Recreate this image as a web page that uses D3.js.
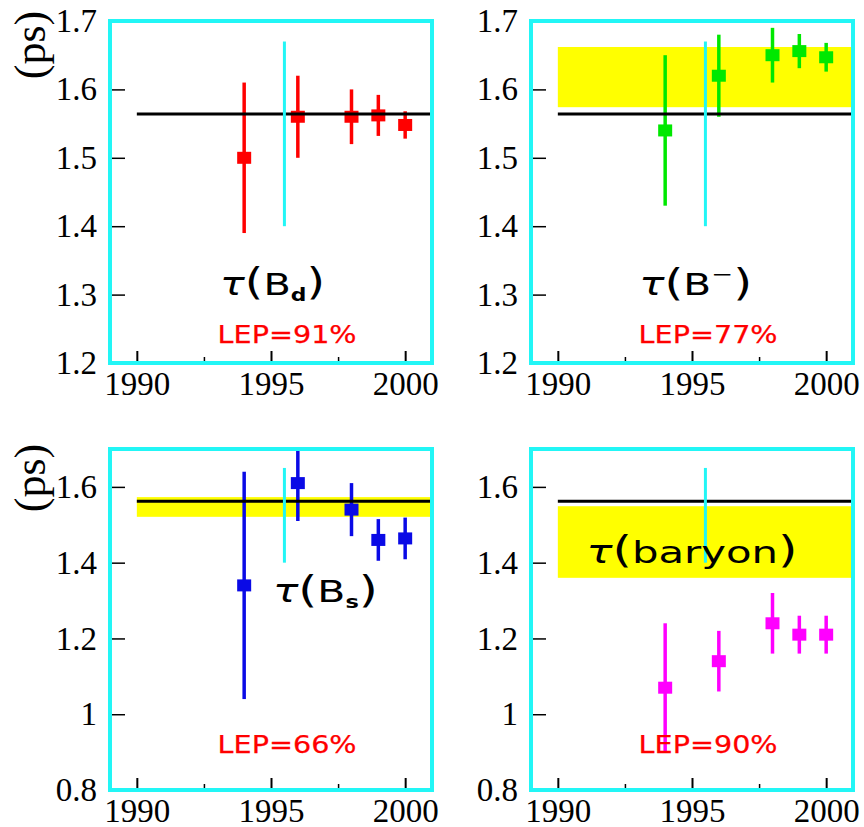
<!DOCTYPE html>
<html>
<head>
<meta charset="utf-8">
<script src="https://cdn.jsdelivr.net/npm/d3@7"></script>
<style>
  body { margin: 0; background: #ffffff; }
</style>
</head>
<body>
<svg id="chart" width="864" height="827"></svg>
<script>
// ---- measurement years (shared by every panel) ----
const years = [1994, 1996, 1998, 1999, 2000];

// ---- lifetimes (ps) and symmetric errors, per hadron species ----
const bdTau = [1.50, 1.56, 1.56, 1.562, 1.548];
const bdErr = [0.11, 0.06, 0.04, 0.03, 0.02];
const buTau = [1.54, 1.62, 1.65, 1.656, 1.647];
const buErr = [0.11, 0.06, 0.04, 0.025, 0.021];
const bsTau = [1.34, 1.61, 1.54, 1.46, 1.464];
const bsErr = [0.30, 0.10, 0.07, 0.055, 0.055];
const lbTau = [1.07, 1.14, 1.24, 1.21, 1.21];
const lbErr = [0.17, 0.08, 0.08, 0.05, 0.05];

// ---- reference B_d lifetime line and current-average bands ----
const refLifetime = [1.564, 1.564, 1.562, 1.562];
const avgBands = [null, [1.574, 1.662], [1.521, 1.573], [1.36, 1.549]];

// ---- vertical marker at mid-1995 (low/high ends per panel) ----
const markerYear = 1995.5;
const markerSpan = [[1.40, 1.67], [1.40, 1.67], [1.40, 1.65], [1.40, 1.65]];

// ---- LEP share labels ----
const lepLabels = ["LEP=91%", "LEP=77%", "LEP=66%", "LEP=90%"];

// ---- axis ticks ----
const yTicksTop = [1.2, 1.3, 1.4, 1.5, 1.6, 1.7];
const yTicksBottom = [0.8, 1, 1.2, 1.4, 1.6];
const xTicksMajor = [1990, 1995, 2000];
const xTicksMinor = [1992.5, 1997.5];

// ---- panel layout ----
const bottomFmt = d => d === 1 ? "1" : d3.format(".1f")(d);
const panels = [
  { x: 110, y: 21,  w: 322, h: 342, dom: [1.2, 1.7], yt: yTicksTop,    fmt: d3.format(".1f"), tau: bdTau, err: bdErr, color: "#ff0000", unit: true },
  { x: 531, y: 21,  w: 322, h: 342, dom: [1.2, 1.7], yt: yTicksTop,    fmt: d3.format(".1f"), tau: buTau, err: buErr, color: "#00e800", unit: false },
  { x: 110, y: 449, w: 322, h: 341, dom: [0.8, 1.7], yt: yTicksBottom, fmt: bottomFmt, tau: bsTau, err: bsErr, color: "#0a0ae6", unit: true },
  { x: 531, y: 449, w: 322, h: 341, dom: [0.8, 1.7], yt: yTicksBottom, fmt: bottomFmt, tau: lbTau, err: lbErr, color: "#ff00ff", unit: false }
];

// title text pieces, anchor (year, lifetime) and rendered width
const titles = [
  { at: [1993.1, 1.299], width: 105, parts: [["τ", 32, "italic"], ["(", 37], ["B", 31], ["d", 17, "bold", 6], [")", 37, null, -6]] },
  { at: [1993.03, 1.299], width: 113, parts: [["τ", 32, "italic"], ["(", 37], ["B", 31], ["−", 20, null, -14], [")", 37, null, 14]] },
  { at: [1995.07, 1.295], width: 105, parts: [["τ", 32, "italic"], ["(", 37], ["B", 31], ["s", 17, "bold", 6], [")", 37, null, -6]] },
  { at: [1991.07, 1.40], width: 211, parts: [["τ", 32, "italic"], ["(", 37], ["baryon", 31], [")", 37]] }
];
const lepAt = [[1995.6, 1.229], [1995.6, 1.229], [1995.6, 0.897], [1995.6, 0.897]];

const svg = d3.select("#chart");
const CYAN = "#22f6f6";

panels.forEach((p, i) => {
  const g = svg.append("g").attr("transform", `translate(${p.x},${p.y})`);
  const x = d3.scaleLinear().domain([1989, 2001]).range([0, p.w]);
  const y = d3.scaleLinear().domain(p.dom).range([p.h, 0]);

  const clipId = "clip" + i;
  g.append("clipPath").attr("id", clipId)
    .append("rect").attr("width", p.w).attr("height", p.h);
  const plot = g.append("g").attr("clip-path", `url(#${clipId})`);

  // current-average band
  if (avgBands[i]) {
    plot.append("rect")
      .attr("x", x(1990)).attr("width", x(2001) - x(1990))
      .attr("y", y(avgBands[i][1])).attr("height", y(avgBands[i][0]) - y(avgBands[i][1]))
      .attr("fill", "#ffff00");
  }

  // measurements: error bars and square markers
  const pts = years.map((yr, k) => ({ yr, v: p.tau[k], e: p.err[k] }));
  plot.selectAll("line.err").data(pts).join("line")
    .attr("class", "err")
    .attr("x1", d => x(d.yr)).attr("x2", d => x(d.yr))
    .attr("y1", d => y(d.v - d.e)).attr("y2", d => y(d.v + d.e))
    .attr("stroke", p.color).attr("stroke-width", 3.5);
  plot.selectAll("rect.pt").data(pts).join("rect")
    .attr("class", "pt")
    .attr("x", d => x(d.yr) - 7).attr("y", d => y(d.v) - 6)
    .attr("width", 14).attr("height", 12)
    .attr("fill", p.color);

  // reference lifetime line
  plot.append("line")
    .attr("x1", x(1990)).attr("x2", x(2001))
    .attr("y1", y(refLifetime[i])).attr("y2", y(refLifetime[i]))
    .attr("stroke", "#000").attr("stroke-width", 3);

  // species title
  const tt = titles[i];
  const title = g.append("text")
    .attr("font-family", "DejaVu Sans").attr("fill", "#000");
  tt.parts.forEach(([txt, size, style, dy]) => {
    const s = title.append("tspan").text(txt).attr("font-size", size);
    if (style === "italic") s.attr("font-style", "italic");
    if (style === "bold") s.attr("font-weight", "bold");
    if (dy) s.attr("dy", dy);
  });
  const tw = title.node().getBBox().width;
  title.attr("transform", `translate(${x(tt.at[0])},${y(tt.at[1])}) scale(${tt.width / tw},1)`);

  // LEP share label
  g.append("text")
    .attr("x", x(lepAt[i][0])).attr("y", y(lepAt[i][1]))
    .attr("text-anchor", "middle")
    .attr("font-family", "DejaVu Sans").attr("font-size", 25)
    .attr("textLength", 139).attr("lengthAdjust", "spacingAndGlyphs")
    .attr("fill", "#ff0000").attr("stroke", "#ff0000").attr("stroke-width", 0.25)
    .text(lepLabels[i]);

  // mid-1995 marker
  plot.append("line")
    .attr("x1", x(markerYear)).attr("x2", x(markerYear))
    .attr("y1", y(markerSpan[i][0])).attr("y2", y(markerSpan[i][1]))
    .attr("stroke", CYAN).attr("stroke-width", 3);

  // y axis: inward ticks, serif labels
  const yAxis = g.append("g")
    .call(d3.axisLeft(y).tickValues(p.yt).tickFormat(p.fmt).tickSizeInner(-15).tickSizeOuter(0).tickPadding(13));
  yAxis.select(".domain").remove();
  yAxis.selectAll("line").attr("stroke", "#000").attr("stroke-width", 1.5);
  yAxis.selectAll("text").attr("font-family", "Liberation Serif").attr("font-size", 33).attr("fill", "#000");

  // x axis: major ticks with labels, minor ticks without
  const xAxis = g.append("g").attr("transform", `translate(0,${p.h})`)
    .call(d3.axisBottom(x).tickValues(xTicksMajor).tickFormat(d3.format("d")).tickSizeInner(-12).tickSizeOuter(0).tickPadding(9));
  xAxis.select(".domain").remove();
  xAxis.selectAll("line").attr("stroke", "#000").attr("stroke-width", 2);
  xAxis.selectAll("text").attr("font-family", "Liberation Serif").attr("font-size", 33).attr("fill", "#000");
  const xMinor = g.append("g").attr("transform", `translate(0,${p.h})`)
    .call(d3.axisBottom(x).tickValues(xTicksMinor).tickFormat("").tickSizeInner(-6).tickSizeOuter(0));
  xMinor.select(".domain").remove();
  xMinor.selectAll("line").attr("stroke", "#000").attr("stroke-width", 1.5);

  // frame
  g.append("rect").attr("width", p.w).attr("height", p.h)
    .attr("fill", "none").attr("stroke", CYAN).attr("stroke-width", 4);

  // unit label on left-column panels
  if (p.unit) {
    const cy = i === 0 ? 45 : 478;
    svg.append("text")
      .attr("transform", `translate(30,${cy}) rotate(-90)`)
      .attr("text-anchor", "middle").attr("dominant-baseline", "central")
      .attr("font-family", "Liberation Serif").attr("font-size", 44)
      .attr("fill", "#000")
      .text("(ps)");
  }
});
</script>
</body>
</html>
